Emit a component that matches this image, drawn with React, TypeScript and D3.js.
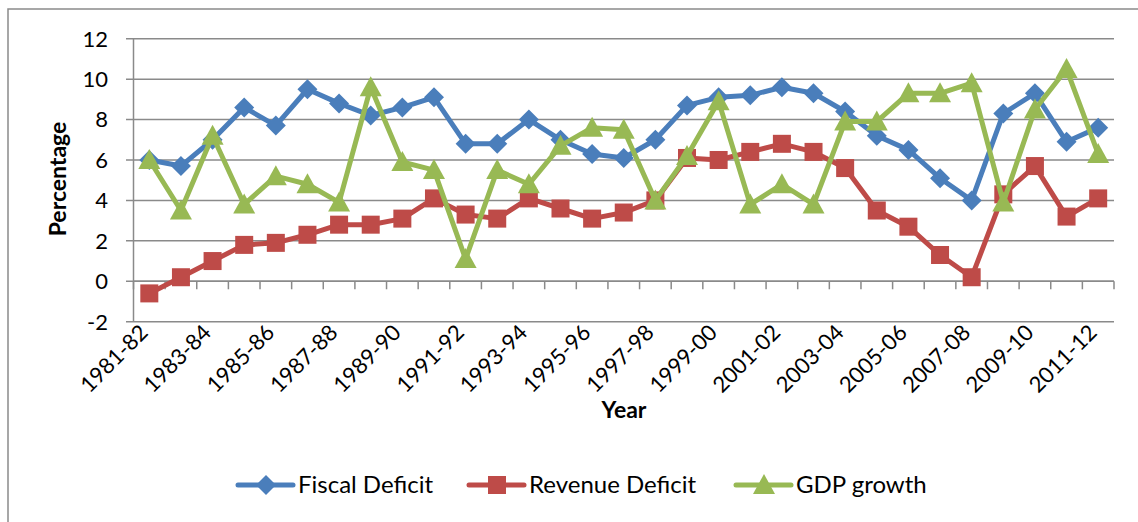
import React from "react";
import * as d3 from "d3";

const years = [
  "1981-82","1982-83","1983-84","1984-85","1985-86","1986-87","1987-88","1988-89",
  "1989-90","1990-91","1991-92","1992-93","1993-94","1994-95","1995-96","1996-97",
  "1997-98","1998-99","1999-00","2000-01","2001-02","2002-03","2003-04","2004-05",
  "2005-06","2006-07","2007-08","2008-09","2009-10","2010-11","2011-12",
];
const fiscalDeficit = [6.0,5.7,7.0,8.6,7.7,9.5,8.8,8.2,8.6,9.1,6.8,6.8,8.0,7.0,6.3,6.1,7.0,8.7,9.1,9.2,9.6,9.3,8.4,7.2,6.5,5.1,4.0,8.3,9.3,6.9,7.6];
const revenueDeficit = [-0.6,0.2,1.0,1.8,1.9,2.3,2.8,2.8,3.1,4.1,3.3,3.1,4.1,3.6,3.1,3.4,4.0,6.1,6.0,6.4,6.8,6.4,5.6,3.5,2.7,1.3,0.2,4.3,5.7,3.2,4.1];
const gdpGrowth = [6.0,3.5,7.2,3.8,5.2,4.8,3.9,9.6,5.9,5.5,1.1,5.5,4.8,6.7,7.6,7.5,4.0,6.2,8.9,3.8,4.8,3.8,7.9,7.9,9.3,9.3,9.8,3.9,8.5,10.5,6.3];
const yTicks = [-2,0,2,4,6,8,10,12];
const seriesNames = ["Fiscal Deficit","Revenue Deficit","GDP growth"];

const FONT = "Lato, 'Open Sans', sans-serif";
const GRID = "#8a8a8a";

type Shape = "diamond" | "square" | "triangle";

function Marker({ cx, cy, shape, color }: { cx: number; cy: number; shape: Shape; color: string }) {
  if (shape === "diamond") {
    const r = 10;
    return <path d={`M${cx},${cy - r}L${cx + r},${cy}L${cx},${cy + r}L${cx - r},${cy}Z`} fill={color} />;
  }
  if (shape === "square") {
    const r = 9;
    return <rect x={cx - r} y={cy - r} width={2 * r} height={2 * r} fill={color} />;
  }
  const h = 20, w = 22;
  return <path d={`M${cx},${cy - h * 0.55}L${cx + w / 2},${cy + h * 0.45}L${cx - w / 2},${cy + h * 0.45}Z`} fill={color} />;
}

export default function App() {
  const W = 1138, H = 522;
  const x = d3.scaleBand<string>().domain(years).range([133.5, 1114]).padding(0);
  const y = d3.scaleLinear().domain([-2, 12]).range([321.7, 38.7]);
  const bw = x.bandwidth();
  const cx = (d: string) => (x(d) as number) + bw / 2;

  const series = [
    { name: seriesNames[0], values: fiscalDeficit, color: "#4A7EBB", shape: "diamond" as Shape },
    { name: seriesNames[1], values: revenueDeficit, color: "#BE4B48", shape: "square" as Shape },
    { name: seriesNames[2], values: gdpGrowth, color: "#98B954", shape: "triangle" as Shape },
  ];

  const line = d3.line<number>().x((_, i) => cx(years[i])).y((v) => y(v));

  const legendItems = [
    { lx: 238, tx: 298 },
    { lx: 469, tx: 529 },
    { lx: 736, tx: 796 },
  ];
  const legendY = 485;

  return (
    <svg width={W} height={H} style={{ position: "absolute", left: 0, top: 0, background: "#fff" }} fontFamily={FONT}>
      <rect x={8} y={9} width={W} height={H} fill="#fff" stroke={GRID} strokeWidth={1.5} />
      {yTicks.map((t) => (
        <g key={t}>
          <line x1={126} x2={1114} y1={y(t)} y2={y(t)} stroke={GRID} strokeWidth={1.5} />
          <text x={108} y={y(t)} dy="0.36em" textAnchor="end" fontSize={22} fill="#000">{t}</text>
        </g>
      ))}
      <line x1={133.5} x2={133.5} y1={y(12)} y2={y(-2)} stroke={GRID} strokeWidth={1.5} />
      <line x1={133.5} x2={1114} y1={y(0)} y2={y(0)} stroke={GRID} strokeWidth={1.5} />
      {years.concat(["end"]).map((d, i) => {
        const xx = 133.5 + i * bw;
        return <line key={"t" + i} x1={xx} x2={xx} y1={y(0)} y2={y(0) + 8} stroke={GRID} strokeWidth={1.5} />;
      })}
      {years.map((d, i) =>
        i % 2 === 0 ? (
          <text key={d} transform={`translate(${cx(d)},${334}) rotate(-45)`} textAnchor="end" fontSize={22} fill="#000">
            {d}
          </text>
        ) : null
      )}
      <text transform="translate(66,179) rotate(-90)" textAnchor="middle" fontSize={23} fontWeight="bold" fill="#000">Percentage</text>
      <text x={624} y={418} textAnchor="middle" fontSize={23} fontWeight="bold" fill="#000">Year</text>
      {series.map((s) => (
        <g key={s.name}>
          <path d={line(s.values) || ""} fill="none" stroke={s.color} strokeWidth={5} strokeLinejoin="round" strokeLinecap="round" />
          {s.values.map((v, i) => (
            <Marker key={i} cx={cx(years[i])} cy={y(v)} shape={s.shape} color={s.color} />
          ))}
        </g>
      ))}
      {series.map((s, k) => (
        <g key={"lg" + s.name}>
          <line x1={legendItems[k].lx} x2={legendItems[k].lx + 55} y1={legendY} y2={legendY} stroke={s.color} strokeWidth={5} strokeLinecap="round" />
          <Marker cx={legendItems[k].lx + 28} cy={legendY} shape={s.shape} color={s.color} />
          <text x={legendItems[k].tx} y={legendY} dy="0.35em" fontSize={24} fill="#000">{s.name}</text>
        </g>
      ))}
    </svg>
  );
}
